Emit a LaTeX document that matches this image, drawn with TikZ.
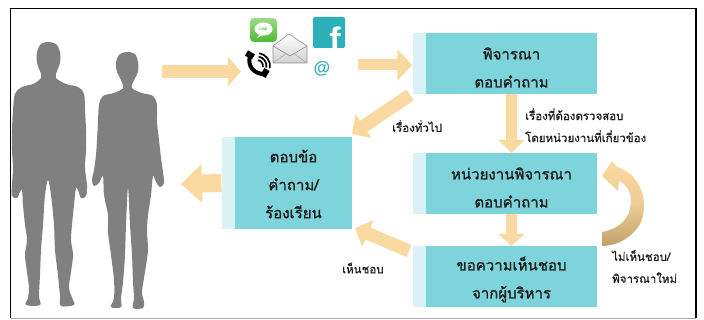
\documentclass[tikz,border=0pt]{standalone}
\usepackage{fontspec}
\newfontfamily\thai[Script=Thai,FakeBold=0.6]{Loma}
\newfontfamily\thaibox[Script=Thai,FakeBold=1.3]{Loma}
\newfontfamily\sansb{Liberation Sans}
\usetikzlibrary{arrows.meta,shadings}
\definecolor{tealbox}{HTML}{7DD5DB}
\definecolor{stripc}{HTML}{DAF2F4}
\definecolor{arrowc}{HTML}{F9D9A0}
\definecolor{arrowdk}{HTML}{C2A06A}
\definecolor{person}{HTML}{808080}
\definecolor{fbteal}{HTML}{2BAFB9}
\definecolor{linegreen}{HTML}{4DBB2F}
\definecolor{inkc}{HTML}{1E1E1E}
\tikzset{
  tealnode/.style={fill=tealbox, inner sep=0pt, minimum width=171pt, minimum height=61pt},
  boxtext/.style={align=center, inner sep=0pt, font=\thaibox\fontsize{15}{28}\selectfont, text=inkc},
  stripnode/.style={fill=stripc, inner sep=0pt, minimum width=13pt},
  fat/.style={draw=arrowc, line width=12pt, -{Triangle[width=28pt,length=14pt]}},
  lbl/.style={font=\thai\fontsize{11.5}{22}\selectfont, text=inkc, align=left, inner sep=0pt},
}
\begin{document}
\begin{tikzpicture}[x=1pt,y=-1pt]
\useasboundingbox (0,0) rectangle (704,320);
\fill[white] (0,0) rectangle (704,320);
% frame
\draw[black!35, line width=1pt] (10.5,318) -- (696,318);
\draw[black, line width=1.6pt] (10.5,318) -- (10.5,8.5) -- (696,8.5) -- (696,318);

% people
\fill[person] plot[smooth cycle, tension=0.55] coordinates {
 (48,42) (56,44) (60,52) (60,63) (57,71) (56,78) (66,84) (78,87) (84,94)
 (85,110) (86,130) (86,150) (85,168) (87,185) (86,196) (81,198) (78,190)
 (76,188) (74,205) (72,225) (71,240) (73,255) (71,272) (69,288) (73,300)
 (74,305) (61,306) (60,296) (58,275) (55,250) (54,225) (51,195) (48,180)
 (45,195) (43,225) (41,250) (40,275) (39,296) (40,305) (26,305) (28,298)
 (29,288) (27,272) (25,255) (27,240) (25,225) (23,205) (22,190) (20,192)
 (17,198) (12,196) (12,185) (13,168) (12,150) (12,130) (13,110) (15,94)
 (22,87) (33,84) (41,78) (40,71) (37,63) (37,52) (41,44)};
\fill[person] plot[smooth cycle, tension=0.55] coordinates {
 (128,52) (135,54) (138,62) (138,72) (134,80) (132,88) (142,93) (153,96)
 (157,105) (157,122) (159,140) (161,158) (163,172) (164,183) (160,187)
 (156,182) (153,176) (151,195) (148,215) (147,232) (148,250) (145,272)
 (142,292) (144,302) (143,308) (133,308) (134,298) (133,282) (132,255)
 (130,225) (128,188) (126,225) (125,255) (123,282) (121,298) (121,307)
 (111,307) (114,298) (114,280) (111,255) (108,232) (108,215) (104,195)
 (103,176) (99,183) (94,186) (92,180) (94,170) (96,155) (97,140) (98,122)
 (99,105) (103,96) (114,93) (123,88) (121,80) (117,72) (116,62) (120,54)};

% LINE icon
\shade[top color=linegreen!55!white, bottom color=linegreen, rounded corners=4pt] (250,18) rectangle (277,42);
\fill[white] (263.5,29) ellipse[x radius=9pt, y radius=6.5pt];
\fill[white] (260,33) -- (257,38) -- (265,34) -- cycle;
\node[font=\sansb\fontsize{3.6}{4}\selectfont\bfseries, text=linegreen, inner sep=0pt] (linetext) at (263.5,29) {LINE};

% envelope
\shade[top color=white, bottom color=black!18, draw=black!45, line width=0.6pt, line join=round]
  (273,46) -- (289,34) -- (307,46) -- (307,63) -- (273,63) -- cycle;
\draw[black!45, line width=0.6pt, line join=round] (273,46) -- (290,56) -- (307,46);
\draw[black!35, line width=0.5pt] (273,63) -- (287,53) (307,63) -- (293,53);

% phone handset with sound waves
\draw[black, line width=4pt, line cap=round] (250,56) .. controls (247,66) and (254,74) .. (264,74);
\fill[black, rotate around={-30:(250,55)}] (246,52) rectangle (254,58);
\fill[black, rotate around={-30:(265,73)}] (262,69) rectangle (268,77);
\foreach \r in {6,9.5,13}
  \draw[black, line width=1.7pt] (257,66) ++(10:\r) arc[start angle=10, end angle=-80, radius=\r];

% Facebook icon
\fill[fbteal, rounded corners=2pt] (313,17) rectangle (345,48);
\begin{scope}
\clip (313,17) rectangle (345,48);
\node[font=\sansb\bfseries\fontsize{34}{34}\selectfont, text=white, inner sep=0pt, anchor=base] (fbf) at (335,52) {f};
\end{scope}
\node[font=\sansb\bfseries\fontsize{17}{17}\selectfont, text=fbteal, inner sep=0pt] (at) at (322,69) {@};

% process boxes
\node[tealnode] (b1) at (511.5,63.5) {};
\node[tealnode, minimum width=117pt, minimum height=92pt] (b2) at (293.5,183) {};
\node[tealnode] (b3) at (511.5,183.5) {};
\node[tealnode] (b4) at (511.5,276.5) {};
\node[stripnode, minimum height=61pt, anchor=east] (s1) at (b1.west) {};
\node[stripnode, minimum height=92pt, anchor=east] (s2) at (b2.west) {};
\node[stripnode, minimum height=61pt, anchor=east] (s3) at (b3.west) {};
\node[stripnode, minimum height=61pt, anchor=east] (s4) at (b4.west) {};
\node[boxtext] (t1) at ([yshift=-4pt]b1.center) {พิจารณา\\ตอบคำถาม};
\node[boxtext] (t2) at ([yshift=-1pt]b2.center) {ตอบข้อ\\คำถาม/\\ร้องเรียน};
\node[boxtext] (t3) at ([yshift=-4pt]b3.center) {หน่วยงานพิจารณา\\ตอบคำถาม};
\node[boxtext] (t4) at ([yshift=-3pt]b4.center) {ขอความเห็นชอบ\\จากผู้บริหาร};

% arrow end points outside the boxes
\coordinate (peopleR) at (162,71.5);
\coordinate (iconsL) at (241,71.5);
\coordinate (iconsR) at (358,65);
\coordinate (peopleL) at (181,184);
\coordinate (gen) at (410,95);
\coordinate (genTip) at (352,134);
\coordinate (okTail) at (409,251);
\coordinate (okTip) at (355,228);

\draw[fat, line width=13pt, -{Triangle[width=29pt,length=13pt]}] (peopleR) -- (iconsL);
\draw[fat, line width=11pt, -{Triangle[width=30pt,length=15pt]}] (iconsR) -- (s1.west |- iconsR);
\draw[fat, line width=18pt, -{Triangle[width=38pt,length=21pt]}] (s2.west) -- (peopleL);
\draw[fat, line width=13pt] (gen) -- (genTip);
\draw[fat, line width=11pt, -{Triangle[width=26pt,length=13pt]}] (b1.south) -- (b3.north);
\draw[fat, line width=11pt, -{Triangle[width=26pt,length=12pt]}] (b3.south) -- (b4.north);
\draw[fat, line width=13pt] (okTail) -- (okTip);

% loop-back arrow beside the lower boxes
\shade[top color=arrowc, bottom color=arrowdk, middle color=arrowc!80!arrowdk]
  (602,176) -- (612,161) -- (617,167)
  .. controls (638,173) and (650,198) .. (641,222)
  .. controls (633,238) and (616,246) .. (602,246)
  -- (602,232)
  .. controls (615,230) and (627,222) .. (630,209)
  .. controls (633,195) and (628,185) .. (619,181)
  -- (618,191) -- cycle;

% labels
\node[lbl, anchor=west] (l1) at (392,126) {เรื่องทั่วไป};
\node[lbl, anchor=north west] (l2) at (525,108) {เรื่องที่ต้องตรวจสอบ\\โดยหน่วยงานที่เกี่ยวข้อง};
\node[lbl, anchor=west] (l3) at (342,268) {เห็นชอบ};
\node[lbl, anchor=north west] (l4) at (612,250) {ไม่เห็นชอบ/\\พิจารณาใหม่};
\end{tikzpicture}
\end{document}
